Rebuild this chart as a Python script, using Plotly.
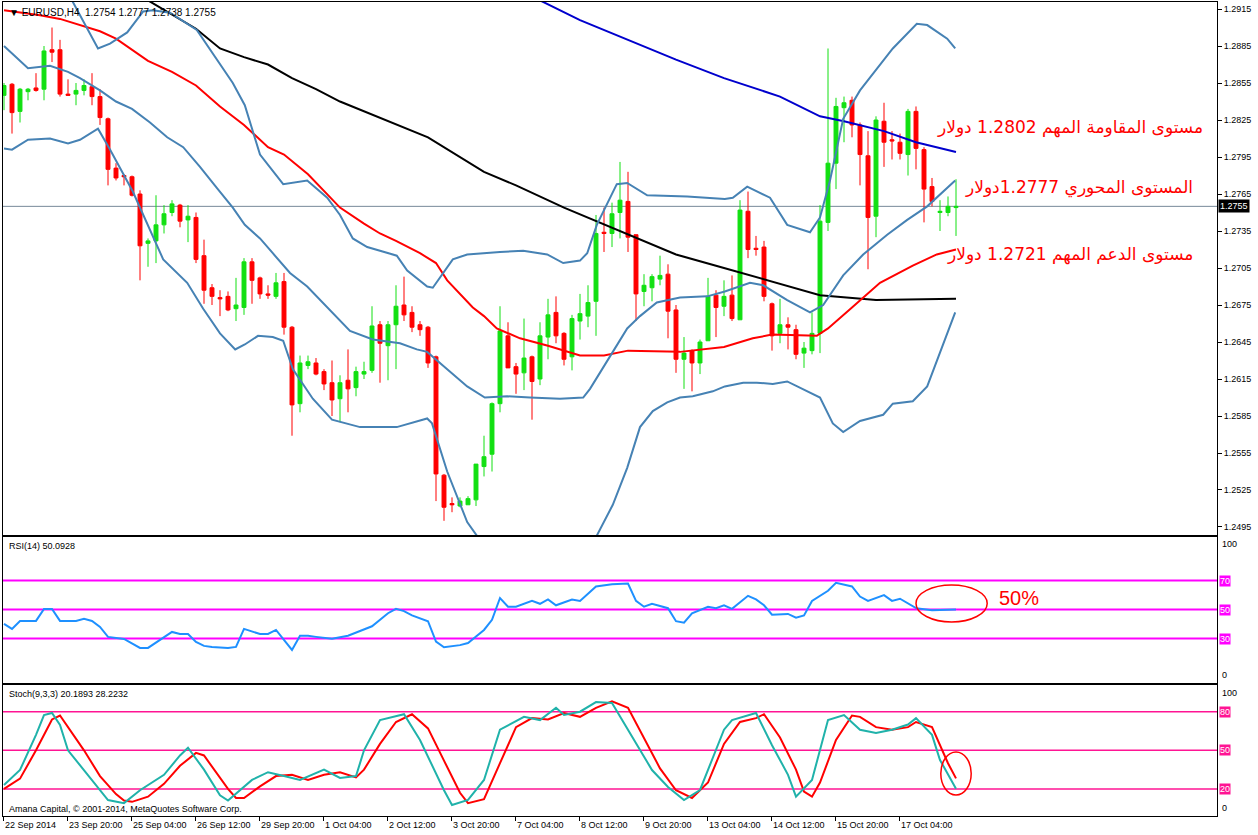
import plotly.graph_objects as go

# ---------------- DATA ----------------
bars = list(range(120))
opens = [1.2845, 1.2854, 1.2832, 1.2848, 1.2851, 1.2850, 1.2882, 1.2882, 1.2846, 1.2846,
         1.2849, 1.2852, 1.2844, 1.2826, 1.2786, 1.2780, 1.2779, 1.2765, 1.2725, 1.2727,
         1.2740, 1.2750, 1.2756, 1.2744, 1.2746, 1.2715, 1.2689, 1.2681, 1.2682, 1.2672,
         1.2673, 1.2710, 1.2697, 1.2684, 1.2682, 1.2694, 1.2657, 1.2595, 1.2626, 1.2628,
         1.2621, 1.2612, 1.2599, 1.2614, 1.2608, 1.2619, 1.2622, 1.2659, 1.2642, 1.2659,
         1.2675, 1.2669, 1.2659, 1.2657, 1.2633, 1.2537, 1.2514, 1.2512, 1.2513, 1.2517,
         1.2544, 1.2554, 1.2595, 1.2650, 1.2625, 1.2620, 1.2633, 1.2615, 1.2649, 1.2669,
         1.2652, 1.2633, 1.2662, 1.2666, 1.2678, 1.2734, 1.2733, 1.2750, 1.2759, 1.2732,
         1.2686, 1.2689, 1.2696, 1.2700, 1.2671, 1.2631, 1.2638, 1.2628, 1.2646, 1.2683,
         1.2674, 1.2683, 1.2663, 1.2751, 1.2721, 1.2722, 1.2676, 1.2652, 1.2659, 1.2655,
         1.2636, 1.2638, 1.2652, 1.2742, 1.2790, 1.2835, 1.2841, 1.2821, 1.2796, 1.2747,
         1.2824, 1.2809, 1.2807, 1.2797, 1.2832, 1.2801, 1.2771, 1.2750, 1.2750, 1.2754]
highs = [1.2855, 1.2855, 1.2851, 1.2851, 1.2863, 1.2885, 1.2900, 1.2890, 1.2858, 1.2855,
         1.2858, 1.2863, 1.2850, 1.2827, 1.2790, 1.2781, 1.2780, 1.2768, 1.2729, 1.2764,
         1.2756, 1.2760, 1.2757, 1.2756, 1.2750, 1.2728, 1.2692, 1.2687, 1.2686, 1.2697,
         1.2713, 1.2713, 1.2698, 1.2691, 1.2701, 1.2701, 1.2658, 1.2634, 1.2634, 1.2632,
         1.2623, 1.2630, 1.2618, 1.2639, 1.2625, 1.2629, 1.2674, 1.2662, 1.2662, 1.2691,
         1.2698, 1.2674, 1.2662, 1.2658, 1.2634, 1.2538, 1.2519, 1.2519, 1.2520, 1.2546,
         1.2569, 1.2596, 1.2674, 1.2661, 1.2628, 1.2664, 1.2634, 1.2661, 1.2680, 1.2682,
         1.2653, 1.2667, 1.2684, 1.2691, 1.2748, 1.2754, 1.2758, 1.2791, 1.2783, 1.2732,
         1.2700, 1.2700, 1.2715, 1.2708, 1.2675, 1.2649, 1.2639, 1.2647, 1.2697, 1.2687,
         1.2695, 1.2699, 1.2760, 1.2767, 1.2731, 1.2727, 1.2677, 1.2680, 1.2665, 1.2659,
         1.2645, 1.2669, 1.2756, 1.2883, 1.2843, 1.2844, 1.2844, 1.2823, 1.2816, 1.2828,
         1.2839, 1.2816, 1.2814, 1.2834, 1.2836, 1.2803, 1.2778, 1.2760, 1.2763, 1.2777]
lows = [1.2833, 1.2814, 1.2823, 1.2841, 1.2848, 1.2841, 1.2872, 1.2844, 1.2845, 1.2837,
        1.2845, 1.2837, 1.2821, 1.2772, 1.2776, 1.2772, 1.2763, 1.2695, 1.2706, 1.2709,
        1.2733, 1.2747, 1.2738, 1.2726, 1.2709, 1.2676, 1.2675, 1.2666, 1.2670, 1.2662,
        1.2667, 1.2676, 1.2680, 1.2680, 1.2680, 1.2651, 1.2569, 1.2588, 1.2623, 1.2618,
        1.2606, 1.2585, 1.2580, 1.2588, 1.2601, 1.2615, 1.2620, 1.2612, 1.2614, 1.2623,
        1.2662, 1.2653, 1.2650, 1.2624, 1.2516, 1.2500, 1.2507, 1.2511, 1.2513, 1.2512,
        1.2536, 1.2540, 1.2588, 1.2624, 1.2603, 1.2606, 1.2582, 1.2610, 1.2631, 1.2644,
        1.2626, 1.2622, 1.2647, 1.2657, 1.2650, 1.2718, 1.2722, 1.2729, 1.2718, 1.2662,
        1.2674, 1.2678, 1.2691, 1.2648, 1.2620, 1.2607, 1.2605, 1.2619, 1.2646, 1.2649,
        1.2666, 1.2662, 1.2663, 1.2713, 1.2715, 1.2678, 1.2638, 1.2644, 1.2639, 1.2631,
        1.2624, 1.2635, 1.2636, 1.2735, 1.2769, 1.2807, 1.2811, 1.2772, 1.2704, 1.2730,
        1.2787, 1.2793, 1.2793, 1.2780, 1.2785, 1.2742, 1.2755, 1.2735, 1.2747, 1.2731]
closes = [1.2853, 1.2831, 1.2850, 1.2850, 1.2849, 1.2881, 1.2880, 1.2846, 1.2845, 1.2849,
          1.2853, 1.2844, 1.2827, 1.2785, 1.2778, 1.2779, 1.2764, 1.2723, 1.2727, 1.2740,
          1.2749, 1.2757, 1.2743, 1.2747, 1.2712, 1.2687, 1.2682, 1.2680, 1.2671, 1.2675,
          1.2710, 1.2695, 1.2684, 1.2683, 1.2693, 1.2657, 1.2594, 1.2628, 1.2629, 1.2619,
          1.2611, 1.2598, 1.2612, 1.2607, 1.2621, 1.2621, 1.2658, 1.2644, 1.2659, 1.2674,
          1.2667, 1.2657, 1.2655, 1.2628, 1.2538, 1.2511, 1.2513, 1.2516, 1.2518, 1.2546,
          1.2552, 1.2595, 1.2654, 1.2624, 1.2619, 1.2632, 1.2613, 1.2650, 1.2667, 1.2650,
          1.2631, 1.2664, 1.2668, 1.2677, 1.2733, 1.2733, 1.2749, 1.2760, 1.2730, 1.2684,
          1.2691, 1.2698, 1.2699, 1.2670, 1.2631, 1.2636, 1.2628, 1.2645, 1.2682, 1.2673,
          1.2682, 1.2664, 1.2752, 1.2720, 1.2720, 1.2682, 1.2650, 1.2659, 1.2657, 1.2635,
          1.2640, 1.2652, 1.2743, 1.2790, 1.2836, 1.2839, 1.2821, 1.2797, 1.2746, 1.2825,
          1.2807, 1.2808, 1.2798, 1.2832, 1.2802, 1.2769, 1.2759, 1.2751, 1.2755, 1.2755]

# Bollinger bands (20) sampled at bar positions
bb_up_bar = [6, 8.5, 11.75, 13.25, 15.4, 17.4, 18.6, 20.75, 24.1, 25.75,
             28.6, 30.1, 32, 34.9, 37.9, 40.4, 42, 43.6, 45.4, 49.1,
             50.4, 52.9, 53.6, 56.1, 57.9, 62, 64.9, 67.9, 69.9, 72,
             72.9, 74.1, 76.6, 77.9, 80.4, 85.4, 90.1, 91.1, 92.9, 95.75,
             97.9, 100.75, 102, 103.25, 104.9, 107, 108.6, 111.1, 114.1, 115.4,
             117.9, 118.9]
bb_up_val = [1.2955, 1.2922, 1.2883, 1.2887, 1.2896, 1.2913, 1.2914, 1.2912, 1.2898, 1.2882,
             1.2855, 1.2837, 1.2797, 1.2773, 1.2776, 1.2762, 1.2748, 1.2729, 1.2722, 1.2715,
             1.2703, 1.2690, 1.2689, 1.2712, 1.2716, 1.2718, 1.2719, 1.2716, 1.2709, 1.2711,
             1.2717, 1.2740, 1.2773, 1.2774, 1.2764, 1.2763, 1.2761, 1.2762, 1.2771, 1.2762,
             1.2740, 1.2734, 1.2746, 1.2776, 1.2826, 1.2849, 1.2862, 1.2883, 1.2903, 1.2902,
             1.2891, 1.2883]
bb_mid_bar = [0, 3, 5.75, 8, 9.5, 12, 14, 16, 18.25, 20.4,
              22.4, 24.5, 26.6, 28.6, 30.1, 32, 33.6, 35.75, 37.9, 40.4,
              43.25, 46.1, 49.5, 51.6, 52.9, 55.4, 57.9, 60.1, 62.9, 65.75,
              69.5, 72.4, 73.25, 76.1, 77.9, 79.5, 81.6, 84.5, 87.9, 90.1,
              93.25, 94.9, 97.9, 100.75, 102.4, 104.9, 107.4, 110.4, 112.9, 115.4,
              118.9]
bb_mid_val = [1.2885, 1.2867, 1.2869, 1.2864, 1.2859, 1.2849, 1.2840, 1.2834, 1.2823, 1.2811,
              1.2803, 1.2787, 1.2770, 1.2754, 1.2740, 1.2729, 1.2717, 1.2701, 1.2690, 1.2673,
              1.2654, 1.2647, 1.2644, 1.2639, 1.2637, 1.2623, 1.2609, 1.2600, 1.2601, 1.2600,
              1.2599, 1.2600, 1.2607, 1.2637, 1.2656, 1.2666, 1.2677, 1.2681, 1.2682, 1.2686,
              1.2693, 1.2691, 1.2679, 1.2669, 1.2675, 1.2699, 1.2716, 1.2732, 1.2744, 1.2755,
              1.2776]
bb_low_bar = [0, 1, 3, 5.75, 8, 9.5, 11.75, 13.25, 16.1, 19.9,
              22.9, 24.9, 27, 28.9, 30.1, 31.75, 33.6, 34.9, 36.1, 38.6,
              41, 42.9, 44.5, 49.1, 51.1, 52.9, 53.5, 55.4, 57.9, 59.1,
              62, 67, 72, 74.1, 76.1, 77.9, 79.5, 81.1, 82.9, 84.5,
              86.1, 88.6, 90.1, 92.4, 94.1, 96.1, 97.9, 100.75, 102, 103.6,
              104.9, 107, 109.9, 111.1, 113.6, 115.4, 118.9]
bb_low_val = [1.2802, 1.2801, 1.2809, 1.2810, 1.2806, 1.2809, 1.2818, 1.2801, 1.2767, 1.2712,
              1.2693, 1.2672, 1.2652, 1.2639, 1.2643, 1.2650, 1.2649, 1.2646, 1.2623, 1.2599,
              1.2582, 1.2579, 1.2576, 1.2576, 1.2580, 1.2583, 1.2579, 1.2540, 1.2499, 1.2488,
              1.2480, 1.2482, 1.2482, 1.2488, 1.2513, 1.2543, 1.2576, 1.2589, 1.2596, 1.2600,
              1.2601, 1.2605, 1.2609, 1.2612, 1.2612, 1.2611, 1.2613, 1.2604, 1.2600, 1.2579,
              1.2572, 1.2581, 1.2586, 1.2595, 1.2597, 1.2609, 1.2669]

# Moving averages
ma_red_bar = [0, 4.5, 7, 12, 14, 18, 21, 24, 27, 30,
              33, 35, 38, 42, 45, 47, 49, 52, 54, 55.4,
              58.6, 60, 61.6, 64.5, 68, 72, 75, 78, 84.5, 90,
              93.6, 96, 101.6, 103, 106, 109.5, 113.6, 116.6, 119]
ma_red_val = [1.2914, 1.2910, 1.2907, 1.2897, 1.2891, 1.2873, 1.2864, 1.2853, 1.2836, 1.2821,
              1.2803, 1.2797, 1.2781, 1.2754, 1.2741, 1.2733, 1.2727, 1.2717, 1.2709, 1.2695,
              1.2673, 1.2666, 1.2656, 1.2648, 1.2642, 1.2634, 1.2634, 1.2638, 1.2637, 1.2641,
              1.2648, 1.2651, 1.2650, 1.2656, 1.2673, 1.2693, 1.2707, 1.2716, 1.2720]
ma_black_bar = [14, 18, 24, 27, 30, 33, 36, 39, 42, 48, 53, 60, 64, 70, 77, 84, 90, 96, 102, 109, 119]
ma_black_val = [1.2943, 1.2922, 1.2899, 1.2883, 1.2876, 1.2870, 1.2859, 1.2850, 1.2840, 1.2824,
                1.2811, 1.2783, 1.2772, 1.2754, 1.2735, 1.2716, 1.2705, 1.2694, 1.2683, 1.2679, 1.2680]
ma_blue_bar = [62, 67, 72, 78, 84, 90, 97, 102, 105, 110, 114, 119]
ma_blue_val = [1.2935, 1.2922, 1.2906, 1.2890, 1.2874, 1.2859, 1.2844, 1.2828, 1.2824, 1.2816, 1.2807, 1.2799]

# RSI(14)
rsi_bar = [0, 1, 2, 4, 5, 6, 7, 9, 10, 11,
           12, 13, 15, 17, 18, 20, 21, 22, 23, 24,
           25, 26, 28, 29, 30, 32, 33, 34, 35, 36,
           37, 38, 39, 41, 43, 44, 46, 48, 49, 50,
           51, 53, 54, 55, 57, 58, 60, 61, 62, 63,
           64, 66, 67, 68, 69, 71, 72, 73, 74, 76,
           78, 79, 80, 81, 83, 84, 85, 86, 88, 89,
           90, 91, 93, 94, 95, 96, 98, 99, 100, 101,
           103, 104, 106, 107, 108, 110, 111, 112, 113, 114,
           116, 119]
rsi_val = [40.1, 36.7, 42.2, 42.2, 50.5, 50.5, 42.2, 42.2, 43.6, 42.2,
           38.1, 31.2, 29.8, 23.6, 23.6, 31.2, 34.6, 33.2, 33.2, 27.7,
           25.0, 24.3, 23.6, 24.3, 36.7, 33.2, 33.2, 36.0, 29.1, 22.2,
           31.9, 31.9, 31.2, 30.0, 32.0, 34.0, 38.5, 47.5, 50.5, 49.0,
           46.0, 42.0, 28.0, 24.0, 25.5, 27.0, 36.0, 43.0, 58.0, 52.0,
           52.0, 56.0, 54.0, 57.0, 53.0, 57.0, 56.0, 61.0, 66.0, 67.5,
           68.0, 56.0, 52.0, 54.0, 51.0, 42.0, 41.0, 47.5, 52.0, 51.0,
           53.0, 50.5, 59.5, 57.0, 53.0, 46.5, 47.0, 44.5, 46.0, 56.0,
           63.0, 68.5, 66.0, 59.0, 56.0, 60.0, 56.0, 57.5, 54.5, 51.0,
           49.5, 50.09]
rsi_levels = [70, 50, 30]

# Stochastic(9,3,3)
stk_bar = [0, 2, 4, 5, 6, 7, 8, 10, 12, 13,
           15, 17, 20, 22, 23, 25, 27, 28, 31, 33,
           35, 37, 40, 42, 44, 45, 47, 50, 52, 55,
           56, 58, 60, 62, 65, 67, 69, 70, 72, 74,
           76, 78, 81, 83, 85, 87, 90, 91, 94, 96,
           98, 99, 101, 103, 105, 107, 109, 111, 113, 114,
           116, 117, 119]
stk_val = [23, 34.7, 62, 77.4, 79, 69.7, 50, 34.7, 19.2, 11.4,
           9, 19, 31, 46, 52, 35, 15, 11, 27, 33,
           30, 27, 35, 28.5, 30, 50, 73.5, 78, 58, 19,
           7.6, 11.5, 27, 66, 76, 73.5, 83, 77.4, 80, 87.5,
           86.7, 66, 34.7, 21.5, 11.4, 19.2, 66, 73.5, 79, 54,
           31, 14, 27, 73.5, 77.4, 66, 63.5, 66, 70, 75,
           62, 42.5, 20.19]
std_bar = [0, 2, 4, 6, 7, 8, 10, 12, 14, 15,
           16, 18, 20, 22, 24, 25, 26, 28, 29, 30,
           32, 34, 36, 38, 40, 42, 44, 45, 47, 49,
           51, 53, 55, 57, 58, 60, 62, 64, 66, 68,
           70, 72, 74, 76, 78, 80, 82, 84, 86, 88,
           90, 92, 94, 95, 97, 99, 100, 101, 102, 104,
           106, 107, 109, 111, 113, 114, 116, 118, 119]
std_val = [20, 28, 50, 74, 77, 68, 50, 30, 16, 11,
           10, 14, 24, 38, 48, 46, 37, 20, 13, 13,
           22, 30, 31, 27, 31, 33, 29, 35, 55, 72,
           78, 67, 42, 17, 9, 12, 40, 68, 75, 74,
           79, 76, 83, 88, 83, 60, 36, 19, 13, 25,
           55, 72, 75, 78, 60, 35, 18, 14, 25, 58,
           77, 76, 68, 66, 68, 72, 68, 40, 28.22]
stoch_levels = [80, 50, 20]

price_ticks = [1.2495, 1.2525, 1.2555, 1.2585, 1.2615, 1.2645, 1.2675, 1.2705,
               1.2735, 1.2765, 1.2795, 1.2825, 1.2855, 1.2885, 1.2915]
last_price = 1.2755
time_tick_bars = [0, 8, 16, 24, 32, 40, 48, 56, 64, 72, 80, 88, 96, 104, 112]
time_tick_labels = ["22 Sep 2014", "23 Sep 20:00", "25 Sep 04:00", "26 Sep 12:00",
                    "29 Sep 20:00", "1 Oct 04:00", "2 Oct 12:00", "3 Oct 20:00",
                    "7 Oct 04:00", "8 Oct 12:00", "9 Oct 20:00", "13 Oct 04:00",
                    "14 Oct 12:00", "15 Oct 20:00", "17 Oct 04:00"]

level_texts = ["مستوى المقاومة المهم 1.2802 دولار",
               "المستوى المحوري 1.2777دولار",
               "مستوى الدعم المهم 1.2721 دولار"]
level_text_prices = [1.2819, 1.2770, 1.2716]
level_text_bars = [150.1, 148.9, 148.9]

# ---------------- STYLE ----------------
GREEN = "#12E012"
RED = "#FF0000"
BB = "#4682B4"
RSI_C = "#1E90FF"
MAG = "#FF00FF"
PINK = "#FF1493"
TEAL = "#20B2AA"
FONT = "Liberation Sans, Arial, sans-serif"
XR = [-0.125, 151.625]

fig = go.Figure()
fig.add_trace(go.Candlestick(
    x=bars, open=opens, high=highs, low=lows, close=closes,
    increasing=dict(line=dict(color=GREEN, width=1), fillcolor=GREEN),
    decreasing=dict(line=dict(color=RED, width=1), fillcolor=RED),
    whiskerwidth=0, xaxis="x", yaxis="y", hoverinfo="skip"))


def line(xs, ys, color, width, xa, ya):
    fig.add_trace(go.Scatter(x=xs, y=ys, mode="lines", line=dict(color=color, width=width),
                             xaxis=xa, yaxis=ya, hoverinfo="skip"))


line(ma_black_bar, ma_black_val, "#000000", 2, "x", "y")
line(ma_blue_bar, ma_blue_val, "#0000CD", 2, "x", "y")
line(ma_red_bar, ma_red_val, RED, 2, "x", "y")
line(bb_up_bar, bb_up_val, BB, 2, "x", "y")
line(bb_mid_bar, bb_mid_val, BB, 2, "x", "y")
line(bb_low_bar, bb_low_val, BB, 2, "x", "y")
line(rsi_bar, rsi_val, RSI_C, 2, "x2", "y2")
line(std_bar, std_val, RED, 2, "x3", "y3")
line(stk_bar, stk_val, TEAL, 2, "x3", "y3")

shapes = []
shapes.append(dict(type="line", xref="paper", x0=0, x1=1, yref="y", y0=last_price, y1=last_price,
                   line=dict(color="#778899", width=1), layer="below"))
for lv in rsi_levels:
    shapes.append(dict(type="line", xref="paper", x0=0, x1=1, yref="y2", y0=lv, y1=lv,
                       line=dict(color=MAG, width=2), layer="below"))
for lv in stoch_levels:
    shapes.append(dict(type="line", xref="paper", x0=0, x1=1, yref="y3", y0=lv, y1=lv,
                       line=dict(color=PINK, width=1.5), layer="below"))
shapes.append(dict(type="circle", xref="x2", yref="y2", x0=114, x1=122.9, y0=41.5, y1=67,
                   line=dict(color=RED, width=1.5)))
shapes.append(dict(type="circle", xref="x3", yref="y3", x0=117.1, x1=120.9, y0=15.3, y1=48.7,
                   line=dict(color=RED, width=1.5)))

ann = []
small = dict(family=FONT, size=9, color="black")
ann.append(dict(text="▼ EURUSD,H4  1.2754 1.2777 1.2738 1.2755", xref="paper", yref="paper",
                x=0, y=1, xanchor="left", yanchor="top", xshift=4, yshift=-3, showarrow=False,
                font=dict(family=FONT, size=10, color="black")))
ann.append(dict(text="RSI(14) 50.0928", xref="paper", yref="y2 domain", x=0, y=1,
                xanchor="left", yanchor="top", xshift=4, yshift=-2, showarrow=False, font=small))
ann.append(dict(text="Stoch(9,3,3) 20.1893 28.2232", xref="paper", yref="y3 domain", x=0, y=1,
                xanchor="left", yanchor="top", xshift=4, yshift=-2, showarrow=False, font=small))
ann.append(dict(text="Amana Capital, © 2001-2014, MetaQuotes Software Corp.", xref="paper",
                yref="y3 domain", x=0, y=0, xanchor="left", yanchor="bottom", xshift=4, yshift=0,
                showarrow=False, font=small))
for b, lab in zip(time_tick_bars, time_tick_labels):
    ann.append(dict(text=lab, xref="x3", yref="y3 domain", x=b - 0.1, y=0, xanchor="left",
                    yanchor="top", xshift=0, yshift=-2, showarrow=False, font=small))
# right-hand labels for price
ann.append(dict(text=f"{last_price:.4f}", xref="paper", yref="y", x=1, y=last_price,
                xanchor="left", yanchor="middle", xshift=1, showarrow=False, bgcolor="black",
                borderpad=1, font=dict(family=FONT, size=9, color="white")))
for txt, yy in [("100", 100), ("0", 0)]:
    ann.append(dict(text=txt, xref="paper", yref="y2", x=1, y=yy, xanchor="left",
                    yanchor="top" if yy == 100 else "bottom", xshift=3, showarrow=False, font=small))
    ann.append(dict(text=txt, xref="paper", yref="y3", x=1, y=yy, xanchor="left",
                    yanchor="top" if yy == 100 else "bottom", xshift=3, showarrow=False, font=small))
for lv in rsi_levels:
    ann.append(dict(text=str(lv), xref="paper", yref="y2", x=1, y=lv, xanchor="left",
                    yanchor="middle", xshift=2, showarrow=False, bgcolor=MAG, borderpad=0,
                    font=dict(family=FONT, size=9, color="white")))
for lv in stoch_levels:
    ann.append(dict(text=str(lv), xref="paper", yref="y3", x=1, y=lv, xanchor="left",
                    yanchor="middle", xshift=2, showarrow=False, bgcolor=PINK, borderpad=0,
                    font=dict(family=FONT, size=9, color="white")))
for txt, yy, bx in zip(level_texts, level_text_prices, level_text_bars):
    ann.append(dict(text=txt, xref="x", yref="y", x=bx, y=yy, xanchor="right", yanchor="middle",
                    showarrow=False, font=dict(family="DejaVu Sans, sans-serif", size=17, color=RED)))
ann.append(dict(text="50%", xref="x2", yref="y2", x=124.1, y=58, xanchor="left", yanchor="middle",
                showarrow=False, font=dict(family=FONT, size=20, color=RED)))

ax_common = dict(showgrid=False, zeroline=False, showline=True, linecolor="black", linewidth=1,
                 mirror=True)
fig.update_layout(
    width=1258, height=835, margin=dict(l=3, r=41, t=2, b=19),
    paper_bgcolor="white", plot_bgcolor="white", showlegend=False,
    xaxis=dict(domain=[0, 1], range=XR, anchor="y", showticklabels=False, ticks="",
               rangeslider=dict(visible=False), **ax_common),
    xaxis2=dict(domain=[0, 1], range=XR, matches="x", anchor="y2", showticklabels=False, ticks="",
                **ax_common),
    xaxis3=dict(domain=[0, 1], range=XR, matches="x", anchor="y3", showticklabels=False,
                ticks="outside", ticklen=4, tickcolor="black",
                tickvals=[b - 0.1 for b in time_tick_bars], **ax_common),
    yaxis=dict(domain=[0.3452, 1], range=[1.24885, 1.29207], side="right", anchor="x",
               tickvals=price_ticks, ticktext=[f"{v:.4f}" for v in price_ticks],
               ticks="outside", ticklen=4, tickcolor="black",
               tickfont=dict(family=FONT, size=9, color="black"), **ax_common),
    yaxis2=dict(domain=[0.1634, 0.3428], range=[-0.6, 100.1], side="right", anchor="x2",
                showticklabels=False, ticks="", **ax_common),
    yaxis3=dict(domain=[0, 0.1609], range=[-1, 100.7], side="right", anchor="x3",
                showticklabels=False, ticks="", **ax_common),
    shapes=shapes, annotations=ann,
)

fig.write_html("out.html")
